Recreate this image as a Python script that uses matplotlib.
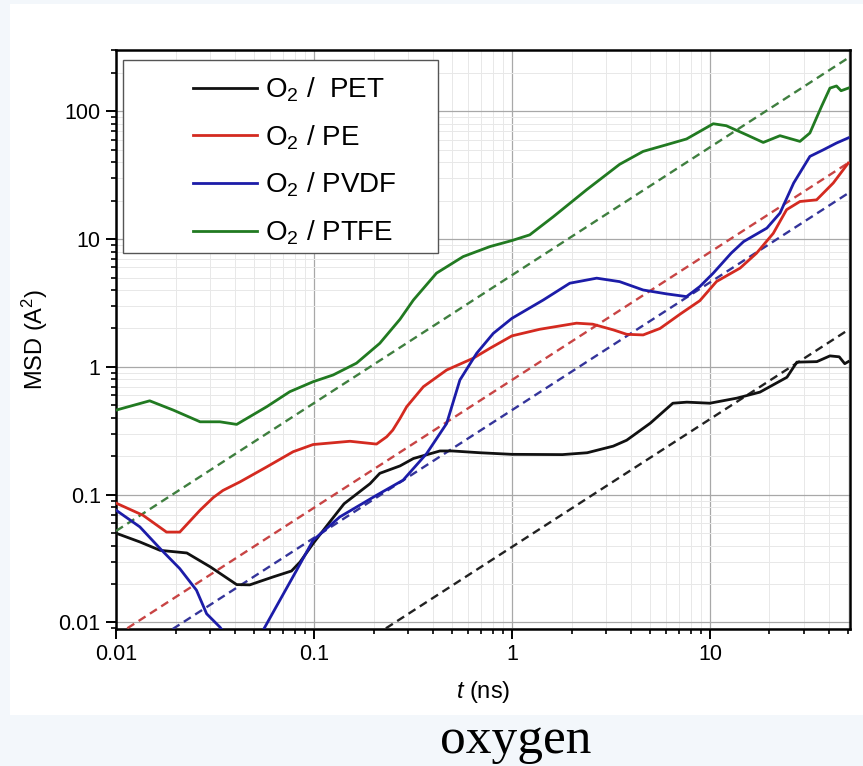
import numpy as np
import matplotlib
matplotlib.use("Agg")
import matplotlib.pyplot as plt
from matplotlib.patches import Rectangle

plt.rcParams['font.family'] = 'Liberation Sans'
plt.rcParams['mathtext.fontset'] = 'custom'
plt.rcParams['mathtext.rm'] = 'Liberation Sans'
plt.rcParams['mathtext.it'] = 'Liberation Sans:italic'

# MSD curves (t in ns, MSD in A^2)
t_pet = [0.010, 0.0132, 0.0167, 0.0228, 0.030, 0.0407, 0.0474, 0.062, 0.077, 0.085,
         0.099, 0.12, 0.142, 0.192, 0.215, 0.272, 0.318, 0.433, 0.50, 0.69, 1.0, 1.8,
         2.4, 3.25, 3.8, 5.0, 6.5, 7.65, 10, 13.7, 17.9, 24.5, 27.5, 34.7, 40.4, 45, 48, 50]
msd_pet = [0.050, 0.0427, 0.0367, 0.035, 0.0272, 0.0198, 0.0197, 0.0227, 0.0253, 0.0297,
           0.0415, 0.061, 0.085, 0.122, 0.147, 0.168, 0.192, 0.220, 0.220, 0.213, 0.207, 0.206,
           0.213, 0.240, 0.267, 0.363, 0.52, 0.53, 0.52, 0.57, 0.635, 0.83, 1.09, 1.10, 1.22, 1.20, 1.06, 1.10]

t_pe = [0.010, 0.0137, 0.018, 0.021, 0.0266, 0.031, 0.0347, 0.0423, 0.0577, 0.0785,
        0.099, 0.152, 0.207, 0.233, 0.25, 0.272, 0.294, 0.357, 0.468, 0.638, 0.775, 1.0,
        1.38, 2.12, 2.56, 3.25, 3.8, 4.6, 5.6, 7.1, 8.9, 10.8, 14.2, 17.2, 20.9, 24.4,
        28.5, 34.6, 42, 50]
msd_pe = [0.086, 0.069, 0.051, 0.051, 0.0757, 0.095, 0.108, 0.126, 0.165, 0.217,
          0.247, 0.262, 0.249, 0.284, 0.32, 0.395, 0.488, 0.70, 0.946, 1.17, 1.40, 1.75,
          1.97, 2.2, 2.16, 1.95, 1.8, 1.78, 2.0, 2.6, 3.3, 4.66, 5.93, 7.76, 11.1, 17,
          19.7, 20.3, 27.5, 39.4]

t_pvdf = [0.010, 0.0132, 0.0167, 0.021, 0.0255, 0.0287, 0.0335, 0.045, 0.0565, 0.0672,
          0.0817, 0.099, 0.135, 0.207, 0.282, 0.371, 0.468, 0.546, 0.664, 0.805, 1.0, 1.44,
          1.96, 2.68, 3.5, 4.6, 6.04, 7.62, 8.9, 10.4, 12.8, 14.8, 19.4, 22.6, 26.5, 32,
          37.4, 43.6, 50]
msd_pvdf = [0.0757, 0.056, 0.0379, 0.0264, 0.0179, 0.0117, 0.0092, 0.005, 0.0092, 0.0149,
            0.0256, 0.044, 0.067, 0.099, 0.13, 0.21, 0.361, 0.79, 1.28, 1.83, 2.4, 3.34,
            4.52, 4.95, 4.65, 4.0, 3.73, 3.55, 4.26, 5.42, 7.76, 9.57, 12.2, 16, 27.5, 44.4,
            50, 56.5, 62]

t_ptfe = [0.010, 0.0148, 0.0195, 0.0266, 0.0335, 0.0407, 0.0577, 0.0755, 0.099, 0.125,
          0.164, 0.215, 0.272, 0.318, 0.416, 0.567, 0.775, 1.0, 1.23, 1.62, 2.38, 3.5, 4.6,
          6.04, 7.62, 8.9, 10.4, 12.1, 15.3, 18.6, 22.6, 28.5, 32, 36.6, 40.4, 43.6, 46, 50]
msd_ptfe = [0.459, 0.543, 0.459, 0.372, 0.372, 0.355, 0.488, 0.64, 0.766, 0.865,
            1.07, 1.53, 2.36, 3.34, 5.42, 7.3, 8.75, 9.75, 10.8, 15, 24.3, 38.5, 48.6,
            54.8, 60.8, 69.7, 80, 77.2, 65.6, 57.1, 64.5, 58.2, 67.7, 109, 152, 158, 145, 152]

# dashed slope-1 guide lines (end points)
t_fit = [0.01, 50]
fit_pet = [0.00039, 1.95]
fit_pe = [0.0079, 39.5]
fit_pvdf = [0.0046, 22.9]
fit_ptfe = [0.052, 262]

labels = ['O$_2$ /  PET', 'O$_2$ / PE', 'O$_2$ / PVDF', 'O$_2$ / PTFE']
colors = ['#111111', '#d42a20', '#1c1ca8', '#217a21']
dash_colors = ['#222222', '#c84444', '#34349a', '#3f7f3f']

fig = plt.figure(figsize=(8.63, 7.66), dpi=100, facecolor='#f3f7fb')
fig.add_artist(Rectangle((10/863, 51/766), 1, 711/766, transform=fig.transFigure,
                         facecolor='white', edgecolor='none', zorder=-10))
ax = fig.add_axes([0.1344, 0.1789, 0.8505, 0.7558])

series = [(t_pet, msd_pet, fit_pet), (t_pe, msd_pe, fit_pe),
          (t_pvdf, msd_pvdf, fit_pvdf), (t_ptfe, msd_ptfe, fit_ptfe)]
for (t, m, f), lab, c, dc in zip(series, labels, colors, dash_colors):
    ax.plot(t_fit, f, color=dc, lw=1.7, dashes=(3.5, 2.2), zorder=3)
    ax.plot(t, m, color=c, lw=2.0, label=lab, zorder=4)

ax.set_xscale('log')
ax.set_yscale('log')
ax.set_xlim(0.01, 51)
ax.set_ylim(0.0089, 302)
ax.set_xticks([0.01, 0.1, 1, 10])
ax.set_xticklabels(['0.01', '0.1', '1', '10'])
ax.set_yticks([0.01, 0.1, 1, 10, 100])
ax.set_yticklabels(['0.01', '0.1', '1', '10', '100'])

ax.grid(which='major', color='#a8a8a8', lw=0.9)
ax.grid(which='minor', color='#e8e8e8', lw=0.7)
ax.set_axisbelow(True)
ax.tick_params(which='major', direction='out', length=7, width=1.4, labelsize=15.5, pad=4)
ax.tick_params(which='minor', direction='out', length=3.6, width=1.2)
for s in ax.spines.values():
    s.set_linewidth(1.8)

ax.set_xlabel('$t$ (ns)', fontsize=17, labelpad=10)
ax.set_ylabel('MSD (A$^2$)', fontsize=17, labelpad=6)

ax.add_patch(Rectangle((0.009, 0.6494), 0.4297, 0.3333, transform=ax.transAxes,
                       facecolor='white', edgecolor='#555555', lw=1.0, zorder=5))
ax.legend(loc='upper left', bbox_to_anchor=(0.086, 0.98), frameon=False, fontsize=20,
          borderpad=0, handlelength=2.3, handletextpad=0.3, labelspacing=0.69).set_zorder(6)

fig.text(516/863, 13/766, 'oxygen', ha='center', va='baseline',
         family='Liberation Serif', fontsize=37)

fig.savefig('out.png', dpi=100, facecolor=fig.get_facecolor())
